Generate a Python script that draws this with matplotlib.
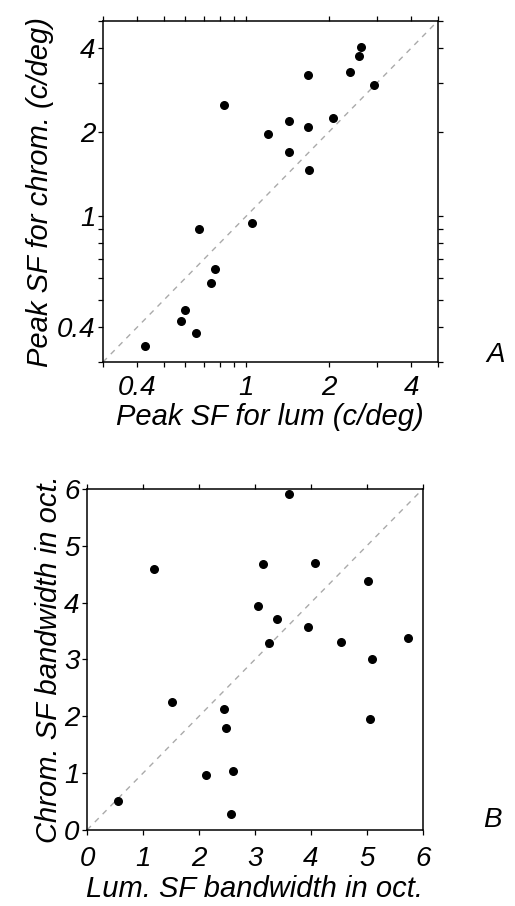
import numpy as np
import matplotlib.pyplot as plt
from matplotlib.ticker import FixedLocator, NullFormatter, LogLocator

plt.rcParams['font.family'] = ['Liberation Sans', 'DejaVu Sans']
plt.rcParams['font.style'] = 'italic'

# panel A : peak spatial frequency (c/deg)
peak_lum = [0.427, 0.577, 0.599, 0.655, 0.674, 0.744, 0.769, 0.828, 1.049, 1.201,
            1.434, 1.434, 1.68, 1.68, 1.698, 2.081, 2.396, 2.571, 2.62, 2.935]
peak_chrom = [0.343, 0.420, 0.460, 0.381, 0.896, 0.574, 0.648, 2.495, 0.947, 1.976,
              2.199, 1.699, 3.203, 2.081, 1.461, 2.241, 3.292, 3.735, 4.02, 2.957]

# panel B : bandwidth (octaves)
bw_lum = [0.554, 1.202, 1.518, 2.131, 2.440, 2.488, 2.571, 2.607, 3.048, 3.143,
          3.244, 3.387, 3.613, 3.940, 4.077, 4.536, 5.018, 5.089, 5.060, 5.744]
bw_chrom = [0.510, 4.587, 2.258, 0.968, 2.123, 1.789, 0.282, 1.044, 3.941, 4.680,
            3.284, 3.713, 5.912, 3.578, 4.692, 3.314, 4.381, 3.003, 1.947, 3.372]

log_ticks = [0.4, 1, 2, 4]
log_ticklabels = ['0.4', '1', '2', '4']
lin_ticks = [0, 1, 2, 3, 4, 5, 6]

fig = plt.figure(figsize=(5.15, 9.06), dpi=100)

def style(ax):
    for sp in ax.spines.values():
        sp.set_linewidth(1.1)
    ax.tick_params(which='both', direction='out', length=3.5, width=0.9,
                   top=True, right=True, labelsize=20, pad=2)

# ---- panel A
axA = fig.add_axes([0.200, 0.6004, 0.650, 0.3764])
axA.plot([0.3, 5], [0.3, 5], ls=(0, (4, 4)), color='#aaaaaa', lw=1)
axA.scatter(peak_lum, peak_chrom, s=30, color='black', zorder=3)
axA.set_xscale('log')
axA.set_yscale('log')
axA.set_xlim(0.3, 5)
axA.set_ylim(0.3, 5)
axA.xaxis.set_major_locator(FixedLocator(log_ticks))
axA.yaxis.set_major_locator(FixedLocator(log_ticks))
axA.set_xticklabels(log_ticklabels)
axA.set_yticklabels(log_ticklabels)
axA.xaxis.set_minor_locator(LogLocator(base=10, subs=np.arange(2, 10)))
axA.yaxis.set_minor_locator(LogLocator(base=10, subs=np.arange(2, 10)))
axA.xaxis.set_minor_formatter(NullFormatter())
axA.yaxis.set_minor_formatter(NullFormatter())
style(axA)
axA.tick_params(axis='x', pad=6)
axA.set_xlabel('Peak SF for lum (c/deg)', fontsize=21, labelpad=1)
axA.set_ylabel('Peak SF for chrom. (c/deg)', fontsize=21, labelpad=2)
fig.text(0.98, 0.608, 'A', fontsize=20, ha='right', va='center')

# ---- panel B
axB = fig.add_axes([0.169, 0.0839, 0.652, 0.3764])
axB.plot([0, 6], [0, 6], ls=(0, (4, 4)), color='#aaaaaa', lw=1)
axB.scatter(bw_lum, bw_chrom, s=30, color='black', zorder=3)
axB.set_xlim(0, 6)
axB.set_ylim(0, 6)
axB.set_xticks(lin_ticks)
axB.set_yticks(lin_ticks)
style(axB)
axB.tick_params(right=False)
axB.tick_params(axis='x', pad=8)
axB.set_xlabel('Lum. SF bandwidth in oct.', fontsize=21, labelpad=2)
axB.set_ylabel('Chrom. SF bandwidth in oct.', fontsize=21, labelpad=1)
fig.text(0.975, 0.095, 'B', fontsize=20, ha='right', va='center')

fig.savefig('out.png', dpi=100)
